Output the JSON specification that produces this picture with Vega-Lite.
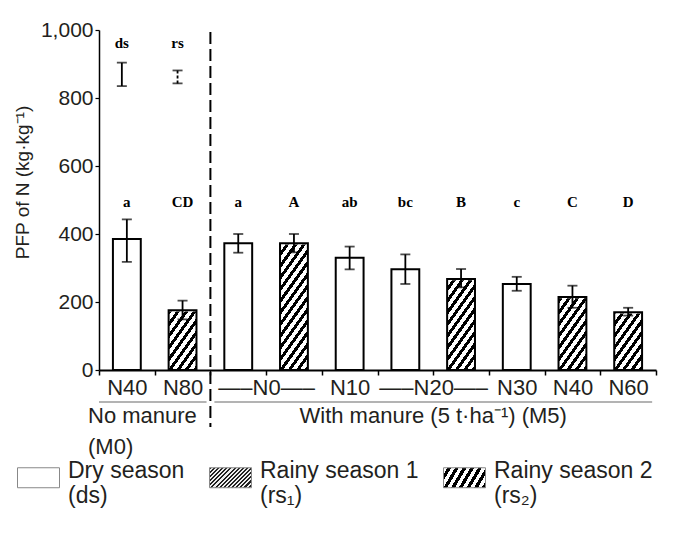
{
  "$schema": "https://vega.github.io/schema/vega-lite/v6.json",
  "width": 557,
  "height": 340,
  "autosize": "none",
  "padding": {"left": 99, "top": 30, "right": 23, "bottom": 170},
  "background": "white",
  "config": {"view": {"stroke": null}, "font": "Liberation Sans"},
  "datasets": {
    "bars": [
      {"slot": "M0_N40", "manure": "M0", "N": "N40", "season": "ds", "pfp": 385, "lo": 318, "hi": 443, "letter": "a"},
      {"slot": "M0_N80", "manure": "M0", "N": "N80", "season": "rs2", "pfp": 176, "lo": 149, "hi": 204, "letter": "CD"},
      {"slot": "M5_N0_ds", "manure": "M5", "N": "N0", "season": "ds", "pfp": 373, "lo": 345, "hi": 400, "letter": "a"},
      {"slot": "M5_N0_rs2", "manure": "M5", "N": "N0", "season": "rs2", "pfp": 373, "lo": 346, "hi": 400, "letter": "A"},
      {"slot": "M5_N10", "manure": "M5", "N": "N10", "season": "ds", "pfp": 330, "lo": 296, "hi": 363, "letter": "ab"},
      {"slot": "M5_N20_ds", "manure": "M5", "N": "N20", "season": "ds", "pfp": 296, "lo": 253, "hi": 340, "letter": "bc"},
      {"slot": "M5_N20_rs2", "manure": "M5", "N": "N20", "season": "rs2", "pfp": 268, "lo": 243, "hi": 297, "letter": "B"},
      {"slot": "M5_N30", "manure": "M5", "N": "N30", "season": "ds", "pfp": 253, "lo": 233, "hi": 274, "letter": "c"},
      {"slot": "M5_N40", "manure": "M5", "N": "N40", "season": "rs2", "pfp": 215, "lo": 183, "hi": 248, "letter": "C"},
      {"slot": "M5_N60", "manure": "M5", "N": "N60", "season": "rs2", "pfp": 170, "lo": 160, "hi": 183, "letter": "D"}
    ],
    "top": [
      {"slot": "M0_N40", "tag": "ds", "lo": 835, "hi": 904},
      {"slot": "M0_N80", "tag": "rs", "lo": 843, "hi": 881}
    ],
    "seasons": [{"season": "ds"}, {"season": "rs1"}, {"season": "rs2"}]
  },
  "layer": [
    {
      "data": {"name": "bars"},
      "transform": [{"filter": "datum.season === 'rs2'"}],
      "mark": {
        "type": "bar",
        "width": {"band": 0.5},
        "strokeWidth": 0,
        "fill": {
          "gradient": "linear", "x1": 0, "y1": 0, "x2": 0.341, "y2": 1.189,
          "stops": [
            {"offset": 0, "color": "#fff"}, {"offset": 0.0367, "color": "#fff"}, {"offset": 0.0367, "color": "#000"}, {"offset": 0.0667, "color": "#000"},
            {"offset": 0.0667, "color": "#fff"}, {"offset": 0.1033, "color": "#fff"}, {"offset": 0.1033, "color": "#000"}, {"offset": 0.1333, "color": "#000"},
            {"offset": 0.1333, "color": "#fff"}, {"offset": 0.17, "color": "#fff"}, {"offset": 0.17, "color": "#000"}, {"offset": 0.2, "color": "#000"},
            {"offset": 0.2, "color": "#fff"}, {"offset": 0.2367, "color": "#fff"}, {"offset": 0.2367, "color": "#000"}, {"offset": 0.2667, "color": "#000"},
            {"offset": 0.2667, "color": "#fff"}, {"offset": 0.3033, "color": "#fff"}, {"offset": 0.3033, "color": "#000"}, {"offset": 0.3333, "color": "#000"},
            {"offset": 0.3333, "color": "#fff"}, {"offset": 0.37, "color": "#fff"}, {"offset": 0.37, "color": "#000"}, {"offset": 0.4, "color": "#000"},
            {"offset": 0.4, "color": "#fff"}, {"offset": 0.4367, "color": "#fff"}, {"offset": 0.4367, "color": "#000"}, {"offset": 0.4667, "color": "#000"},
            {"offset": 0.4667, "color": "#fff"}, {"offset": 0.5033, "color": "#fff"}, {"offset": 0.5033, "color": "#000"}, {"offset": 0.5333, "color": "#000"},
            {"offset": 0.5333, "color": "#fff"}, {"offset": 0.57, "color": "#fff"}, {"offset": 0.57, "color": "#000"}, {"offset": 0.6, "color": "#000"},
            {"offset": 0.6, "color": "#fff"}, {"offset": 0.6367, "color": "#fff"}, {"offset": 0.6367, "color": "#000"}, {"offset": 0.6667, "color": "#000"},
            {"offset": 0.6667, "color": "#fff"}, {"offset": 0.7033, "color": "#fff"}, {"offset": 0.7033, "color": "#000"}, {"offset": 0.7333, "color": "#000"},
            {"offset": 0.7333, "color": "#fff"}, {"offset": 0.77, "color": "#fff"}, {"offset": 0.77, "color": "#000"}, {"offset": 0.8, "color": "#000"},
            {"offset": 0.8, "color": "#fff"}, {"offset": 0.8367, "color": "#fff"}, {"offset": 0.8367, "color": "#000"}, {"offset": 0.8667, "color": "#000"},
            {"offset": 0.8667, "color": "#fff"}, {"offset": 0.9033, "color": "#fff"}, {"offset": 0.9033, "color": "#000"}, {"offset": 0.9333, "color": "#000"},
            {"offset": 0.9333, "color": "#fff"}, {"offset": 0.97, "color": "#fff"}, {"offset": 0.97, "color": "#000"}, {"offset": 1, "color": "#000"}
          ]
        }
      },
      "encoding": {
        "x": {
          "field": "slot", "type": "nominal",
          "scale": {"type": "band", "domain": ["M0_N40", "M0_N80", "M5_N0_ds", "M5_N0_rs2", "M5_N10", "M5_N20_ds", "M5_N20_rs2", "M5_N30", "M5_N40", "M5_N60"], "paddingInner": 0, "paddingOuter": 0},
          "axis": {
            "title": null, "tickBand": "extent", "domainColor": "black", "domainWidth": 2,
            "tickColor": "black", "tickWidth": 1.5, "tickSize": 5,
            "labelFontSize": 22, "labelColor": "#231f20", "labelPadding": 2, "labelAngle": 0,
            "labelFont": "Liberation Sans",
            "labelExpr": "datum.value === 'M5_N0_ds' ? '—–N0—–' : datum.value === 'M5_N20_ds' ? '—–N20—–' : (datum.value === 'M5_N0_rs2' || datum.value === 'M5_N20_rs2') ? '' : split(datum.value, '_')[1]",
            "labelOffset": {"condition": {"test": "datum.value === 'M5_N0_ds' || datum.value === 'M5_N20_ds'", "value": 27.85}, "value": 0}
          }
        },
        "y": {
          "datum": 400, "type": "quantitative",
          "scale": {"domain": [0, 1000], "nice": false},
          "axis": {
            "title": "PFP of N (kg·kg⁻¹)", "values": [0, 200, 400, 600, 800, 1000],
            "labelExpr": "format(datum.value, ',')",
            "grid": false, "domainColor": "black", "domainWidth": 1.5,
            "tickColor": "black", "tickSize": 4, "tickWidth": 1.2,
            "labelFontSize": 21, "labelColor": "#231f20", "labelPadding": 2, "labelFont": "Liberation Sans",
            "titleFontSize": 19, "titleFontWeight": "normal", "titleColor": "#231f20", "titleFont": "Liberation Sans",
            "titleX": -77, "titleY": 152, "titleAngle": 270, "titleAlign": "center", "titleBaseline": "middle"
          }
        },
        "y2": {"datum": 0}
      }
    },
    {
      "data": {"name": "bars"},
      "transform": [{"filter": "datum.season === 'rs2'"}],
      "mark": {"type": "bar", "width": {"band": 0.5}, "fill": "white", "stroke": "white", "strokeWidth": 2.5},
      "encoding": {
        "x": {"field": "slot", "type": "nominal"},
        "y": {"field": "pfp", "type": "quantitative"},
        "y2": {"datum": 400}
      }
    },
    {
      "data": {"name": "bars"},
      "mark": {"type": "bar", "width": {"band": 0.5}, "fill": "transparent", "stroke": "black", "strokeWidth": 2},
      "encoding": {
        "x": {"field": "slot", "type": "nominal"},
        "y": {"field": "pfp", "type": "quantitative"}
      }
    },
    {
      "data": {"name": "bars"},
      "mark": {"type": "rule", "color": "black", "strokeWidth": 1.8},
      "encoding": {
        "x": {"field": "slot", "type": "nominal"},
        "y": {"field": "lo", "type": "quantitative"},
        "y2": {"field": "hi"}
      }
    },
    {
      "data": {"name": "bars"},
      "mark": {"type": "tick", "color": "black", "size": 10, "thickness": 1.8},
      "encoding": {
        "x": {"field": "slot", "type": "nominal"},
        "y": {"field": "lo", "type": "quantitative"}
      }
    },
    {
      "data": {"name": "bars"},
      "mark": {"type": "tick", "color": "black", "size": 10, "thickness": 1.8},
      "encoding": {
        "x": {"field": "slot", "type": "nominal"},
        "y": {"field": "hi", "type": "quantitative"}
      }
    },
    {
      "data": {"name": "bars"},
      "mark": {"type": "text", "font": "Liberation Serif", "fontWeight": "bold", "fontSize": 15, "color": "black", "baseline": "alphabetic"},
      "encoding": {
        "x": {"field": "slot", "type": "nominal"},
        "y": {"datum": 479, "type": "quantitative"},
        "text": {"field": "letter"}
      }
    },
    {
      "data": {"name": "top"},
      "mark": {"type": "rule", "color": "black", "strokeWidth": 1.8, "xOffset": -5},
      "encoding": {
        "x": {"field": "slot", "type": "nominal"},
        "y": {"field": "lo", "type": "quantitative"},
        "y2": {"field": "hi"},
        "strokeDash": {"field": "tag", "type": "nominal", "scale": {"domain": ["ds", "rs"], "range": [[1, 0], [3, 2]]}, "legend": null}
      }
    },
    {
      "data": {"name": "top"},
      "mark": {"type": "tick", "color": "black", "size": 10, "thickness": 1.8, "xOffset": -5},
      "encoding": {
        "x": {"field": "slot", "type": "nominal"},
        "y": {"field": "lo", "type": "quantitative"}
      }
    },
    {
      "data": {"name": "top"},
      "mark": {"type": "tick", "color": "black", "size": 10, "thickness": 1.8, "xOffset": -5},
      "encoding": {
        "x": {"field": "slot", "type": "nominal"},
        "y": {"field": "hi", "type": "quantitative"}
      }
    },
    {
      "data": {"name": "top"},
      "mark": {"type": "text", "font": "Liberation Serif", "fontWeight": "bold", "fontSize": 15, "color": "black", "baseline": "alphabetic", "xOffset": -5},
      "encoding": {
        "x": {"field": "slot", "type": "nominal"},
        "y": {"datum": 947, "type": "quantitative"},
        "text": {"field": "tag"}
      }
    },
    {
      "data": {"values": [{}]},
      "mark": {"type": "rule", "color": "black", "strokeWidth": 2, "strokeDash": [12, 5]},
      "encoding": {
        "x": {"datum": "M5_N0_ds", "type": "nominal", "bandPosition": 0},
        "y": {"datum": 994, "type": "quantitative"},
        "y2": {"datum": -168}
      }
    },
    {
      "data": {"values": [{}]},
      "mark": {"type": "rule", "color": "#9a9a9a", "strokeWidth": 1.5, "x2Offset": 24},
      "encoding": {
        "x": {"datum": "M0_N40", "type": "nominal", "bandPosition": 0},
        "x2": {"datum": "M0_N80"},
        "y": {"datum": -94, "type": "quantitative"}
      }
    },
    {
      "data": {"values": [{}]},
      "mark": {"type": "rule", "color": "#9a9a9a", "strokeWidth": 1.5, "xOffset": 4, "x2Offset": 24},
      "encoding": {
        "x": {"datum": "M5_N0_ds", "type": "nominal", "bandPosition": 0},
        "x2": {"datum": "M5_N60"},
        "y": {"datum": -94, "type": "quantitative"}
      }
    },
    {
      "data": {"values": [{}]},
      "mark": {"type": "text", "text": ["No manure", "(M0)"], "lineHeight": 31, "align": "left", "baseline": "alphabetic", "fontSize": 22, "color": "#231f20", "font": "Liberation Sans", "xOffset": -11},
      "encoding": {
        "x": {"datum": "M0_N40", "type": "nominal", "bandPosition": 0},
        "y": {"datum": -156, "type": "quantitative"}
      }
    },
    {
      "data": {"values": [{}]},
      "mark": {"type": "text", "text": "With manure (5 t·ha⁻¹) (M5)", "align": "center", "baseline": "alphabetic", "fontSize": 22, "color": "#231f20", "font": "Liberation Sans"},
      "encoding": {
        "x": {"datum": "M5_N20_rs2", "type": "nominal", "bandPosition": 0},
        "y": {"datum": -156, "type": "quantitative"}
      }
    },
    {
      "data": {"name": "seasons"},
      "mark": {"type": "bar", "strokeWidth": 0},
      "encoding": {
        "x": {"datum": "M0_N40", "type": "nominal"},
        "y": {"datum": 0, "type": "quantitative"},
        "y2": {"datum": 0},
        "fill": {
          "field": "season", "type": "nominal",
          "scale": {
            "domain": ["ds", "rs1", "rs2"],
            "range": [
              "white",
              {"expr": "{gradient: 'linear', x1: 0, y1: 0, x2: 1.203, y2: 0.573, stops: [{offset: 0, color: '#222'}, {offset: 0.0333, color: '#222'}, {offset: 0.0333, color: '#eee'}, {offset: 0.0667, color: '#eee'}, {offset: 0.0667, color: '#222'}, {offset: 0.1, color: '#222'}, {offset: 0.1, color: '#eee'}, {offset: 0.1333, color: '#eee'}, {offset: 0.1333, color: '#222'}, {offset: 0.1667, color: '#222'}, {offset: 0.1667, color: '#eee'}, {offset: 0.2, color: '#eee'}, {offset: 0.2, color: '#222'}, {offset: 0.2333, color: '#222'}, {offset: 0.2333, color: '#eee'}, {offset: 0.2667, color: '#eee'}, {offset: 0.2667, color: '#222'}, {offset: 0.3, color: '#222'}, {offset: 0.3, color: '#eee'}, {offset: 0.3333, color: '#eee'}, {offset: 0.3333, color: '#222'}, {offset: 0.3667, color: '#222'}, {offset: 0.3667, color: '#eee'}, {offset: 0.4, color: '#eee'}, {offset: 0.4, color: '#222'}, {offset: 0.4333, color: '#222'}, {offset: 0.4333, color: '#eee'}, {offset: 0.4667, color: '#eee'}, {offset: 0.4667, color: '#222'}, {offset: 0.5, color: '#222'}, {offset: 0.5, color: '#eee'}, {offset: 0.5333, color: '#eee'}, {offset: 0.5333, color: '#222'}, {offset: 0.5667, color: '#222'}, {offset: 0.5667, color: '#eee'}, {offset: 0.6, color: '#eee'}, {offset: 0.6, color: '#222'}, {offset: 0.6333, color: '#222'}, {offset: 0.6333, color: '#eee'}, {offset: 0.6667, color: '#eee'}, {offset: 0.6667, color: '#222'}, {offset: 0.7, color: '#222'}, {offset: 0.7, color: '#eee'}, {offset: 0.7333, color: '#eee'}, {offset: 0.7333, color: '#222'}, {offset: 0.7667, color: '#222'}, {offset: 0.7667, color: '#eee'}, {offset: 0.8, color: '#eee'}, {offset: 0.8, color: '#222'}, {offset: 0.8333, color: '#222'}, {offset: 0.8333, color: '#eee'}, {offset: 0.8667, color: '#eee'}, {offset: 0.8667, color: '#222'}, {offset: 0.9, color: '#222'}, {offset: 0.9, color: '#eee'}, {offset: 0.9333, color: '#eee'}, {offset: 0.9333, color: '#222'}, {offset: 0.9667, color: '#222'}, {offset: 0.9667, color: '#eee'}, {offset: 1, color: '#eee'}]}"},
              {"expr": "{gradient: 'linear', x1: 0, y1: 0, x2: 1.187, y2: 0.3325, stops: [{offset: 0, color: '#fff'}, {offset: 0.0714, color: '#fff'}, {offset: 0.0714, color: '#000'}, {offset: 0.1429, color: '#000'}, {offset: 0.1429, color: '#fff'}, {offset: 0.2143, color: '#fff'}, {offset: 0.2143, color: '#000'}, {offset: 0.2857, color: '#000'}, {offset: 0.2857, color: '#fff'}, {offset: 0.3571, color: '#fff'}, {offset: 0.3571, color: '#000'}, {offset: 0.4286, color: '#000'}, {offset: 0.4286, color: '#fff'}, {offset: 0.5, color: '#fff'}, {offset: 0.5, color: '#000'}, {offset: 0.5714, color: '#000'}, {offset: 0.5714, color: '#fff'}, {offset: 0.6429, color: '#fff'}, {offset: 0.6429, color: '#000'}, {offset: 0.7143, color: '#000'}, {offset: 0.7143, color: '#fff'}, {offset: 0.7857, color: '#fff'}, {offset: 0.7857, color: '#000'}, {offset: 0.8571, color: '#000'}, {offset: 0.8571, color: '#fff'}, {offset: 0.9286, color: '#fff'}, {offset: 0.9286, color: '#000'}, {offset: 1, color: '#000'}]}"}
            ]
          },
          "legend": {
            "orient": "none", "legendX": -82, "legendY": 426, "direction": "horizontal", "columns": 3, "title": null,
            "symbolType": "M-1,-0.476L1,-0.476L1,0.476L-1,0.476Z", "symbolSize": 1764,
            "symbolStrokeColor": "#888", "symbolStrokeWidth": 1,
            "labelFontSize": 23, "labelColor": "#231f20", "labelFont": "Liberation Sans", "labelLimit": 400,
            "labelBaseline": "alphabetic", "labelOffset": 8, "columnPadding": 22, "padding": 0,
            "labelExpr": "datum.value === 'ds' ? ['Dry season', '(ds)'] : datum.value === 'rs1' ? ['Rainy season 1', '(rs₁)'] : ['Rainy season 2', '(rs₂)']"
          }
        }
      }
    }
  ]
}
